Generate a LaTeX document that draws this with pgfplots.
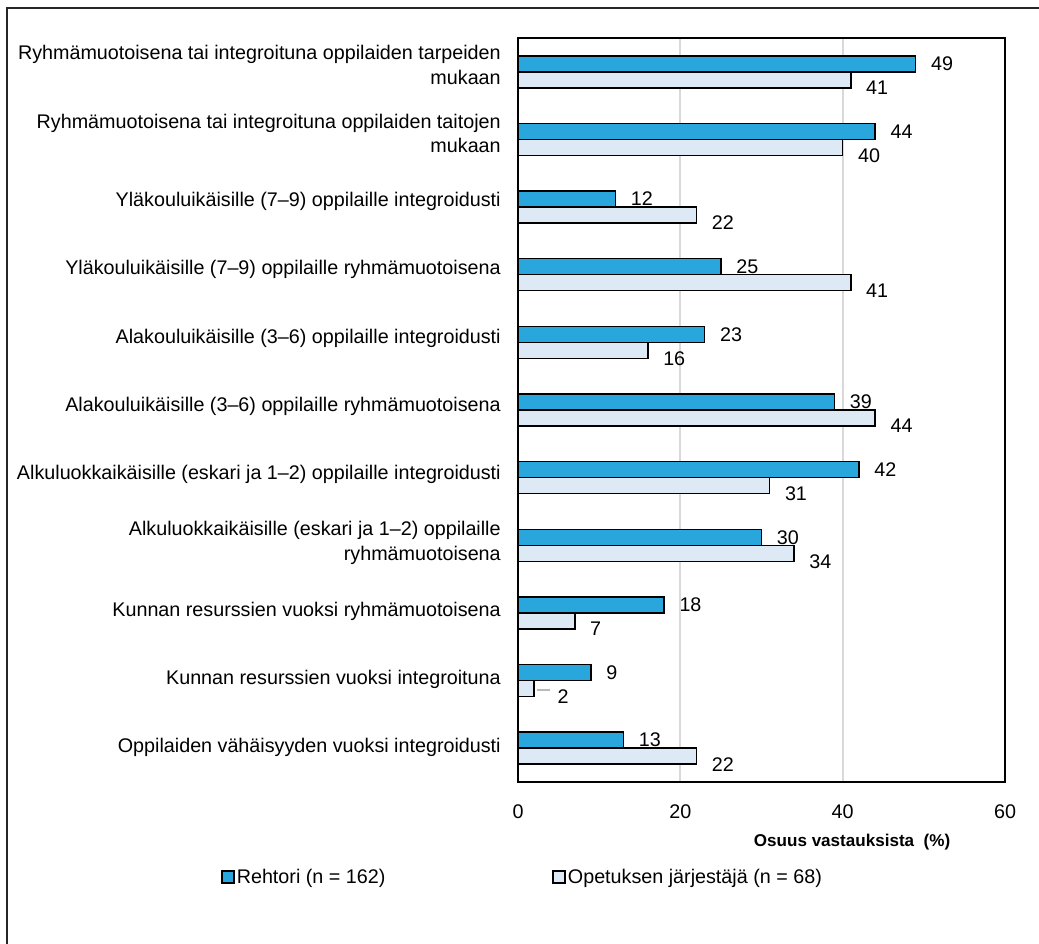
\documentclass[border=0pt]{standalone}
\usepackage{fontspec}
\setmainfont{Liberation Sans}
\usepackage{pgfplots}
\pgfplotsset{compat=1.18}
\definecolor{rehtori}{RGB}{41,167,220}
\definecolor{jarj}{RGB}{221,234,246}
\definecolor{gridc}{RGB}{217,217,217}
\newcommand\lbl{\fontsize{14.8}{18.5}\selectfont}
\begin{document}
\begin{tikzpicture}
\useasboundingbox (0,0) rectangle (779.25pt,708pt);
\draw[black!85, line width=1.6pt] (5.25pt,-5pt) -- (5.25pt,702pt) -- (790pt,702pt);
\begin{axis}[
  at={(388.5pt,121.5pt)}, anchor=south west,
  scale only axis, width=365.25pt, height=558pt,
  xbar, bar width=12pt,
  xmin=0, xmax=60, ymin=-0.5, ymax=10.5,
  xtick={0,20,40,60}, ytick={0,...,10},
  yticklabels={
    Oppilaiden vähäisyyden vuoksi integroidusti,
    Kunnan resurssien vuoksi integroituna,
    Kunnan resurssien vuoksi ryhmämuotoisena,
    {Alkuluokkaikäisille (eskari ja 1–2) oppilaille\\ryhmämuotoisena},
    Alkuluokkaikäisille (eskari ja 1–2) oppilaille integroidusti,
    Alakouluikäisille (3–6) oppilaille ryhmämuotoisena,
    Alakouluikäisille (3–6) oppilaille integroidusti,
    Yläkouluikäisille (7–9) oppilaille ryhmämuotoisena,
    Yläkouluikäisille (7–9) oppilaille integroidusti,
    {Ryhmämuotoisena tai integroituna oppilaiden taitojen\\mukaan},
    {Ryhmämuotoisena tai integroituna oppilaiden tarpeiden\\mukaan}
  },
  /pgf/number format/assume math mode=true,
  tick style={draw=none},
  axis line style={black, line width=1.5pt},
  xmajorgrids, major grid style={gridc, line width=1.5pt},
  xticklabel style={font=\lbl, anchor=center, inner sep=0pt, yshift=-22.5pt},
  yticklabel style={font=\lbl, align=right, inner sep=0pt, xshift=-8.5pt,
    yshift={(0.5+0.45*\ticknum)*1pt}},
  xlabel={Osuus vastauksista\ \ (\%)},
  xlabel style={font=\bfseries\fontsize{12.8}{15}\selectfont, at={(axis description cs:0.686,0)}, anchor=center, yshift=-45pt},
  clip=false,
  legend style={at={(axis description cs:-0.61,-0.1277)}, anchor=west, draw=none, fill=none, inner sep=0pt, font=\lbl,
    nodes={inner sep=1.2pt},
    /tikz/every even column/.append style={column sep=124pt}},
  legend columns=2, legend cell align=left,
  legend image code/.code={\draw[#1, line width=1.5pt] (0pt,-4.5pt) rectangle (9pt,4.5pt);},
  nodes near coords,
  point meta=explicit symbolic,
]
\addplot[fill=rehtori, draw=black, line width=1.1pt, bar shift=6pt,
  every node near coord/.append style={anchor=west, inner sep=0pt, xshift=11pt, font=\lbl}]
  coordinates {(49,10) [49] (44,9) [44] (12,8) [12] (25,7) [25] (23,6) [23] (39,5) [39]
               (42,4) [42] (30,3) [30] (18,2) [18] (9,1) [9] (13,0) [13]};
\addlegendentry{Rehtori (n = 162)}
\addplot[fill=jarj, draw=black, line width=1.1pt, bar shift=-6pt,
  every node near coord/.append style={anchor=west, inner sep=0pt, xshift=11pt, yshift=-6pt, font=\lbl}]
  coordinates {(41,10) [41] (40,9) [40] (22,8) [22] (41,7) [41] (16,6) [16] (44,5) [44]
               (31,4) [31] (34,3) [34] (7,2) [7] (2,1) [\hspace*{6pt}2] (22,0) [22]};
\addlegendentry{Opetuksen järjestäjä (n = 68)}
\draw[gray!55, line width=1.1pt] ([yshift=-7pt]axis cs:2.3,1) -- ([yshift=-7pt]axis cs:4.0,1);
\end{axis}
\end{tikzpicture}
\end{document}
